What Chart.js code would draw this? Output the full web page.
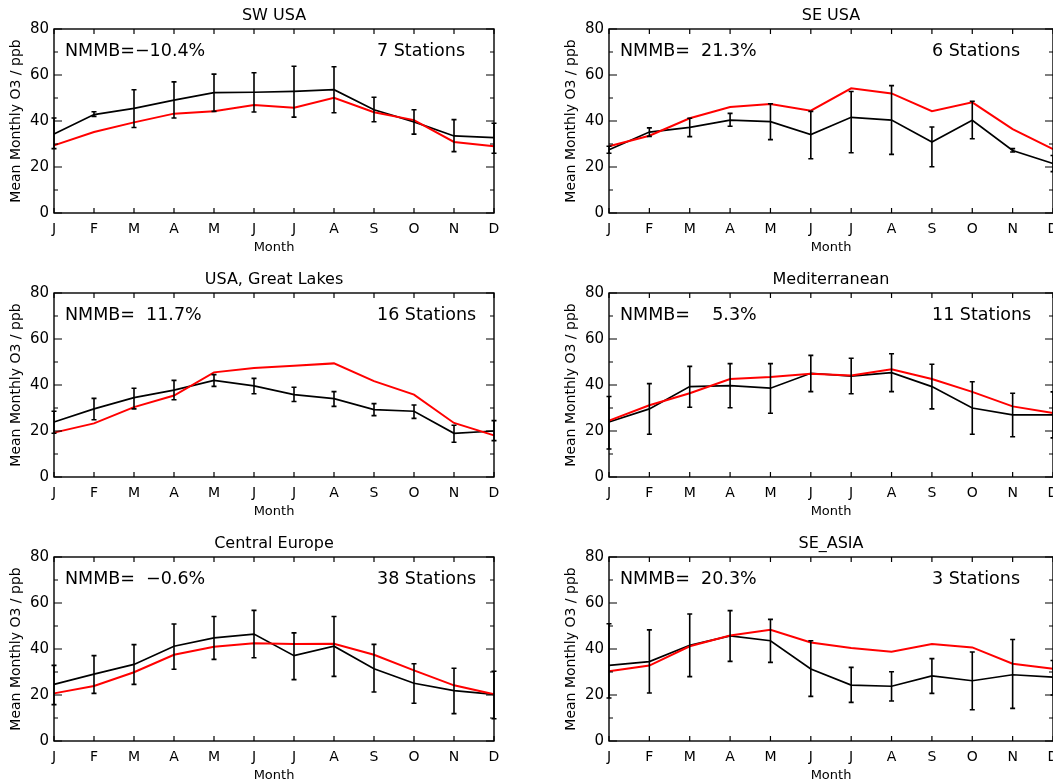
<!DOCTYPE html>
<html>
<head>
<meta charset="utf-8">
<title>Mean Monthly O3</title>
<script src="https://cdn.jsdelivr.net/npm/chart.js@4.4.1/dist/chart.umd.min.js"></script>
<style>
  html, body { margin: 0; padding: 0; background: #fff; overflow: hidden; }
  #page { position: relative; width: 1053px; height: 780px; overflow: hidden; }
  #page canvas { position: absolute; }
</style>
</head>
<body>
<div id="page">
  <canvas id="c-swusa" width="530" height="260" style="left:0;top:0"></canvas>
  <canvas id="c-seusa" width="534" height="260" style="left:555px;top:0"></canvas>
  <canvas id="c-lakes" width="530" height="260" style="left:0;top:264px"></canvas>
  <canvas id="c-med" width="534" height="260" style="left:555px;top:264px"></canvas>
  <canvas id="c-ceu" width="530" height="260" style="left:0;top:528px"></canvas>
  <canvas id="c-asia" width="534" height="260" style="left:555px;top:528px"></canvas>
</div>
<script>
// month tick labels
const MONTHS = ['J', 'F', 'M', 'A', 'M', 'J', 'J', 'A', 'S', 'O', 'N', 'D'];

// SW USA (7 stations)
const swUsaObs   = [34.3, 42.8, 45.5, 49.1, 52.3, 52.5, 52.9, 53.6, 44.9, 39.6, 33.5, 32.8];
const swUsaLo    = [28.0, 42.0, 37.2, 41.3, 44.2, 43.9, 41.7, 43.6, 39.7, 34.3, 26.7, 26.0];
const swUsaHi    = [41.3, 44.0, 53.6, 57.0, 60.4, 61.0, 63.8, 63.6, 50.3, 44.9, 40.6, 39.0];
const swUsaModel = [29.4, 35.2, 39.4, 43.2, 44.2, 47.0, 45.8, 50.1, 43.8, 40.4, 30.9, 29.0];

// SE USA (6 stations)
const seUsaObs   = [27.5, 35.2, 37.2, 40.4, 39.7, 34.1, 41.6, 40.4, 30.9, 40.3, 27.2, 21.5];
const seUsaLo    = [26.0, 33.3, 33.2, 37.7, 31.9, 23.6, 26.2, 25.5, 20.1, 32.3, 26.5, 18.0];
const seUsaHi    = [29.0, 37.0, 41.2, 43.3, 47.5, 44.2, 52.8, 55.4, 37.4, 48.6, 28.0, 25.0];
const seUsaModel = [29.0, 33.6, 41.2, 46.1, 47.4, 44.5, 54.2, 52.0, 44.3, 48.1, 36.5, 27.8];

// USA, Great Lakes (16 stations)
const lakesObs   = [23.9, 29.6, 34.5, 37.8, 42.0, 39.6, 35.8, 34.1, 29.3, 28.6, 19.0, 20.0];
const lakesLo    = [19.0, 24.9, 29.6, 33.6, 39.4, 36.2, 32.8, 30.7, 26.7, 25.5, 15.1, 15.8];
const lakesHi    = [28.6, 34.2, 38.6, 42.0, 44.5, 42.9, 39.0, 37.1, 31.9, 31.3, 22.5, 24.5];
const lakesModel = [19.3, 23.3, 30.4, 35.4, 45.5, 47.4, 48.4, 49.4, 41.7, 35.8, 23.5, 18.1];

// Mediterranean (11 stations)
const medObs   = [23.9, 29.6, 39.3, 39.7, 38.6, 45.1, 43.9, 45.4, 39.3, 30.0, 27.0, 27.0];
const medLo    = [12.2, 18.6, 30.3, 30.1, 27.7, 37.1, 36.2, 37.1, 29.6, 18.6, 17.5, 17.0];
const medHi    = [35.0, 40.6, 48.1, 49.3, 49.3, 52.9, 51.6, 53.6, 49.0, 41.4, 36.4, 37.0];
const medModel = [24.5, 31.2, 36.4, 42.6, 43.5, 44.9, 44.1, 46.8, 42.6, 37.0, 30.7, 27.8];

// Central Europe (38 stations)
const ceuObs   = [24.6, 29.1, 33.3, 41.2, 44.8, 46.5, 37.1, 41.2, 31.4, 25.1, 21.9, 20.3];
const ceuLo    = [15.8, 20.7, 24.6, 31.2, 35.5, 36.2, 26.7, 28.1, 21.3, 16.4, 11.9, 9.7];
const ceuHi    = [32.9, 37.1, 41.9, 50.9, 54.1, 56.8, 47.0, 54.1, 42.0, 33.6, 31.6, 30.3];
const ceuModel = [20.7, 23.9, 29.9, 37.5, 41.0, 42.5, 42.2, 42.3, 37.5, 30.7, 24.2, 20.3];

// SE_ASIA (3 stations)
const asiaObs   = [32.9, 34.5, 41.6, 45.7, 43.6, 31.3, 24.3, 23.8, 28.3, 26.2, 28.8, 27.8];
const asiaLo    = [18.7, 20.9, 28.0, 34.6, 34.2, 19.4, 16.8, 17.4, 20.7, 13.6, 14.2, 20.0];
const asiaHi    = [51.0, 48.3, 55.2, 56.7, 52.9, 43.6, 32.0, 30.1, 35.8, 38.7, 44.1, 35.0];
const asiaModel = [30.3, 32.8, 41.2, 45.9, 48.4, 42.8, 40.4, 38.8, 42.2, 40.7, 33.6, 31.4];

const FONT = "'DejaVu Sans', sans-serif";

// error bars, frame box, inward ticks and the two text labels
const idlPanel = {
    id: 'idlPanel',
    afterDatasetsDraw(chart, args, opts) {
        const { ctx, chartArea: a, scales: { x, y } } = chart;
        ctx.save();

        // error bars on the observations
        ctx.strokeStyle = '#000';
        ctx.lineWidth = 1.6;
        opts.lo.forEach((lo, i) => {
            const px = x.getPixelForValue(i);
            const y0 = y.getPixelForValue(lo);
            const y1 = y.getPixelForValue(opts.hi[i]);
            ctx.beginPath();
            ctx.moveTo(px, y0); ctx.lineTo(px, y1);
            ctx.moveTo(px - 2.5, y0); ctx.lineTo(px + 2.5, y0);
            ctx.moveTo(px - 2.5, y1); ctx.lineTo(px + 2.5, y1);
            ctx.stroke();
        });

        // box
        ctx.lineWidth = 1.4;
        ctx.strokeRect(a.left, a.top, a.right - a.left, a.bottom - a.top);

        // y ticks, both sides, major every 20 and minor every 10
        ctx.lineWidth = 1.2;
        ctx.beginPath();
        for (let v = 0; v <= 80; v += 10) {
            const py = y.getPixelForValue(v);
            const len = v % 20 === 0 ? 8 : 4;
            ctx.moveTo(a.left, py); ctx.lineTo(a.left + len, py);
            ctx.moveTo(a.right, py); ctx.lineTo(a.right - len, py);
        }
        // month ticks, top and bottom
        MONTHS.forEach((m, i) => {
            const px = x.getPixelForValue(i);
            ctx.moveTo(px, a.bottom); ctx.lineTo(px, a.bottom - 5);
            ctx.moveTo(px, a.top); ctx.lineTo(px, a.top + 5);
        });
        ctx.stroke();

        // annotations
        ctx.fillStyle = '#000';
        ctx.font = '17.5px ' + FONT;
        ctx.textBaseline = 'middle';
        ctx.textAlign = 'left';
        ctx.fillText(opts.nmmb, a.left + 11, a.top + 22);
        ctx.fillText(opts.stations, a.left + 323, a.top + 22);
        ctx.restore();
    }
};

function makePanel(canvasId, title, nmmb, stations, obs, lo, hi, model) {
    const ctx = document.getElementById(canvasId);
    return new Chart(ctx, {
        type: 'line',
        data: {
            labels: MONTHS,
            datasets: [
                {
                    label: 'Model',
                    data: model,
                    borderColor: '#ff0000',
                    borderWidth: 2,
                    pointRadius: 0,
                    tension: 0,
                    fill: false
                },
                {
                    label: 'Observed',
                    data: obs,
                    borderColor: '#000000',
                    borderWidth: 1.7,
                    pointRadius: 0,
                    tension: 0,
                    fill: false
                }
            ]
        },
        options: {
            responsive: false,
            animation: false,
            devicePixelRatio: 1,
            events: [],
            layout: { autoPadding: false, padding: { left: 0, right: 36, top: 0, bottom: 0 } },
            plugins: {
                legend: { display: false },
                tooltip: { enabled: false },
                title: {
                    display: true,
                    text: title,
                    fullSize: false,
                    color: '#000',
                    font: { family: FONT, size: 16, weight: 'normal', lineHeight: 1.25 },
                    padding: { top: 6, bottom: 3 }
                },
                idlPanel: { nmmb, stations, lo, hi }
            },
            scales: {
                x: {
                    type: 'category',
                    offset: false,
                    grid: { display: false, drawTicks: false },
                    border: { display: false },
                    ticks: {
                        color: '#000',
                        font: { family: FONT, size: 14 },
                        padding: 8,
                        maxRotation: 0,
                        autoSkip: false
                    },
                    title: {
                        display: true,
                        text: 'Month',
                        color: '#000',
                        font: { family: FONT, size: 13 },
                        padding: { top: 0, bottom: 5 }
                    },
                    afterFit: (s) => { s.height = 47; }
                },
                y: {
                    min: 0,
                    max: 80,
                    grid: { display: false, drawTicks: false },
                    border: { display: false },
                    ticks: {
                        stepSize: 20,
                        color: '#000',
                        font: { family: FONT, size: 15 },
                        padding: 5
                    },
                    title: {
                        display: true,
                        text: 'Mean Monthly O3 / ppb',
                        color: '#000',
                        font: { family: FONT, size: 14 },
                        padding: { top: 8, bottom: 0 }
                    },
                    afterFit: (s) => { s.width = 54; }
                }
            }
        },
        plugins: [idlPanel]
    });
}

makePanel('c-swusa', 'SW USA', 'NMMB=\u221210.4%', '7 Stations', swUsaObs, swUsaLo, swUsaHi, swUsaModel);
makePanel('c-seusa', 'SE USA', 'NMMB=  21.3%', '6 Stations', seUsaObs, seUsaLo, seUsaHi, seUsaModel);
makePanel('c-lakes', 'USA, Great Lakes', 'NMMB=  11.7%', '16 Stations', lakesObs, lakesLo, lakesHi, lakesModel);
makePanel('c-med', 'Mediterranean', 'NMMB=    5.3%', '11 Stations', medObs, medLo, medHi, medModel);
makePanel('c-ceu', 'Central Europe', 'NMMB=  \u22120.6%', '38 Stations', ceuObs, ceuLo, ceuHi, ceuModel);
makePanel('c-asia', 'SE_ASIA', 'NMMB=  20.3%', '3 Stations', asiaObs, asiaLo, asiaHi, asiaModel);
</script>
</body>
</html>
